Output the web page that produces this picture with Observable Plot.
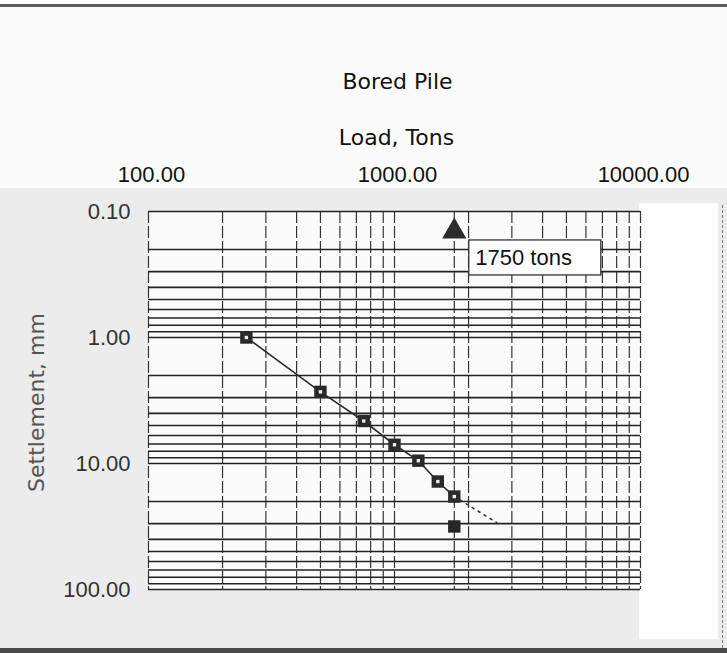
<!DOCTYPE html>
<html>
<head>
<meta charset="utf-8">
<script src="https://cdn.jsdelivr.net/npm/d3@7"></script>
<script src="https://cdn.jsdelivr.net/npm/@observablehq/plot@0.6"></script>
<style>
  html, body { margin: 0; padding: 0; background: #eeeeee; }
  #page { position: relative; width: 727px; height: 653px; overflow: hidden; background: #ececec; font-family: "Liberation Sans", Arial, sans-serif; }
  .deco { position: absolute; }
  #chart { position: absolute; left: 0; top: 0; }
</style>
</head>
<body>
<div id="page">
  <div class="deco" style="left:0;top:0;width:727px;height:188px;background:#fbfbfb;"></div>
  <div class="deco" style="left:0;top:4px;width:727px;height:3px;background:#5a5a5a;"></div>
  <div class="deco" style="left:639px;top:203px;width:79px;height:436px;background:#ffffff;"></div>
  <div class="deco" style="left:722px;top:205px;width:0;height:448px;border-left:1.5px dashed #777;"></div>
  <div class="deco" style="left:0;top:648px;width:727px;height:5px;background:#4a4a4a;"></div>
  <div id="chart"></div>
</div>
<script>
// ---- data ----
const titleText = "Bored Pile";
const xTitle = "Load, Tons";
const yTitle = "Settlement, mm";

const loadTons = [250, 500, 750, 1000, 1250, 1500, 1750];
const settlementMm = [1.0, 2.7, 4.6, 7.1, 9.5, 13.9, 18.3];

const finalLoad = [1750];
const finalSettlement = [31.6];

const trendLoad = [1750, 2600];
const trendSettlement = [18.3, 29.4];

const markerLoad = [1750];
const markerSettlement = [0.144];
const markerLabel = ["1750 tons"];

const xTicks = [100, 1000, 10000];
const yTicks = [0.1, 1, 10, 100];

const xGrid = [100, 200, 300, 400, 500, 600, 700, 800, 900,
               1000, 2000, 3000, 4000, 5000, 6000, 7000, 8000, 9000, 10000, 1750];
const yGrid = [0.1, 0.2, 0.3, 0.4, 0.5, 0.6, 0.7, 0.8, 0.9,
               1, 2, 3, 4, 5, 6, 7, 8, 9,
               10, 20, 30, 40, 50, 60, 70, 80, 90, 100];

// ---- tables built from the arrays ----
const points = loadTons.map((l, i) => ({load: l, settlement: settlementMm[i]}));
const finalPts = finalLoad.map((l, i) => ({load: l, settlement: finalSettlement[i]}));
const trend = trendLoad.map((l, i) => ({load: l, settlement: trendSettlement[i]}));
const marker = markerLoad.map((l, i) => ({load: l, settlement: markerSettlement[i], label: markerLabel[i]}));

const fmt = d => d.toFixed(2);

const chart = Plot.plot({
  width: 727,
  height: 653,
  marginTop: 211,
  marginBottom: 64,
  marginLeft: 148,
  marginRight: 87,
  style: {background: "transparent", fontFamily: "'Liberation Sans', Arial, sans-serif", overflow: "visible"},
  x: {type: "log", domain: [100, 10000]},
  y: {type: "log", domain: [0.1, 100], reverse: true},
  marks: [
    Plot.frame({fill: "#fbfbfb", stroke: "none"}),
    Plot.ruleX(xGrid, {x: d => d, stroke: "#333", strokeWidth: 1.2, strokeDasharray: "12,3"}),
    Plot.ruleY(yGrid, {y: d => d, stroke: "#222", strokeWidth: 1.6}),
    // callout box
    Plot.rect(marker, {x1: "load", x2: "load", y1: "settlement", y2: "settlement",
      insetLeft: 15, insetRight: -147, insetTop: 9, insetBottom: -44,
      fill: "#ffffff", stroke: "#333", strokeWidth: 1.3}),
    Plot.text(marker, {x: "load", y: "settlement", text: "label", dx: 21, dy: 26,
      textAnchor: "start", fontSize: 22, fill: "#111"}),
    Plot.dot(marker, {x: "load", y: "settlement", symbol: "triangle", r: 9, fill: "#2b2b2b", stroke: "none"}),
    // fitted line
    Plot.line(points, {x: "load", y: "settlement", stroke: "#2a2a2a", strokeWidth: 1.6}),
    Plot.line(trend, {x: "load", y: "settlement", stroke: "#333", strokeWidth: 1.6, strokeDasharray: "2,5"}),
    // measured points
    Plot.dot(points, {x: "load", y: "settlement", symbol: "square", r: 7, fill: "#2a2a2a", stroke: "none"}),
    Plot.dot(points, {x: "load", y: "settlement", symbol: "square", r: 1.9, fill: "#eeeeee", stroke: "none"}),
    Plot.dot(finalPts, {x: "load", y: "settlement", symbol: "square", r: 7, fill: "#262626", stroke: "none"}),
    // axes
    Plot.axisX(xTicks, {anchor: "top", tickSize: 0, tickPadding: 30, tickFormat: fmt,
      fontSize: 22, fill: "#111", label: null, dx: 3}),
    Plot.axisY(yTicks, {anchor: "left", tickSize: 0, tickPadding: 18, tickFormat: fmt,
      fontSize: 22, fill: "#333", label: null}),
    // titles
    Plot.text([titleText], {frameAnchor: "top", text: d => d, dy: -138, dx: 3,
      fontSize: 22, fill: "#111", fontFamily: "'DejaVu Sans', sans-serif"}),
    Plot.text([xTitle], {frameAnchor: "top", text: d => d, dy: -82, dx: 2,
      fontSize: 22, fill: "#111", fontFamily: "'DejaVu Sans', sans-serif"}),
    Plot.text([yTitle], {frameAnchor: "left", textAnchor: "middle", text: d => d, rotate: -90,
      dx: -112, dy: 2, fontSize: 22, fill: "#555", fontFamily: "'DejaVu Sans', sans-serif"})
  ]
});
document.getElementById("chart").appendChild(chart);
</script>
</body>
</html>
